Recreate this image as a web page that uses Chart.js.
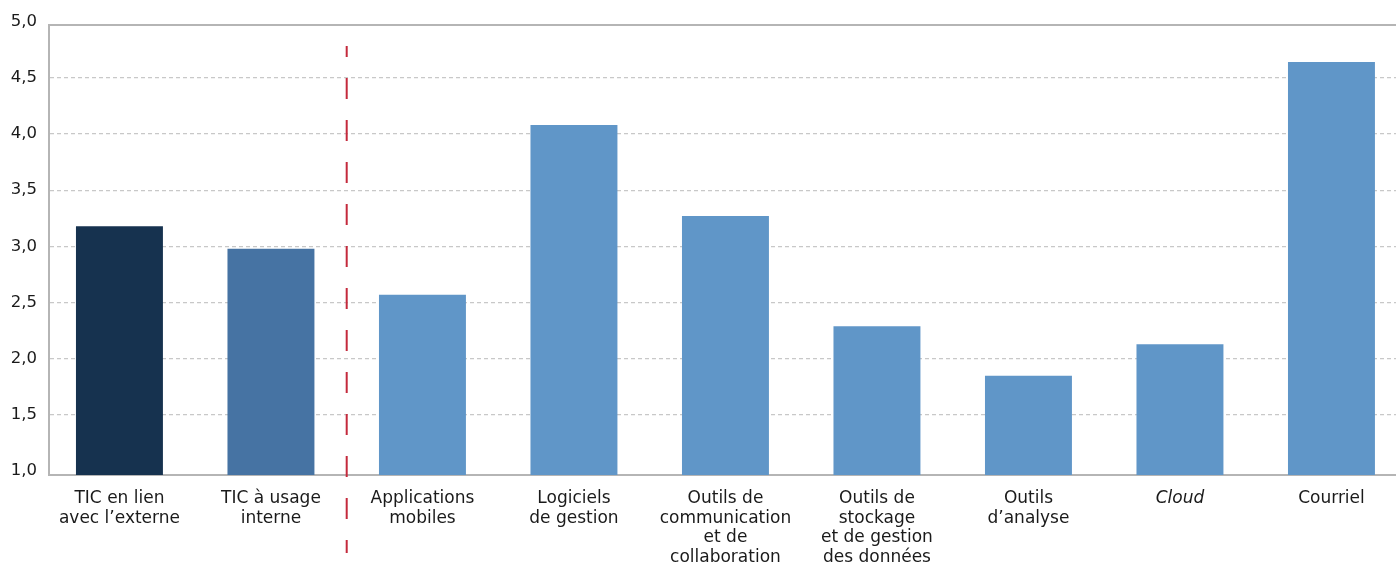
<!DOCTYPE html>
<html>
<head>
<meta charset="utf-8">
<script src="https://cdn.jsdelivr.net/npm/chart.js@4/dist/chart.umd.min.js"></script>
<style>
html,body{margin:0;padding:0;background:#fff;overflow:hidden;}
#wrap{width:1396px;height:563px;position:relative;}
</style>
</head>
<body>
<div id="wrap"><canvas id="c" width="1396" height="563"></canvas></div>
<script>
const categories = [
  ["TIC en lien", "avec l\u2019externe"],
  ["TIC \u00e0 usage", "interne"],
  ["Applications", "mobiles"],
  ["Logiciels", "de gestion"],
  ["Outils de", "communication", "et de", "collaboration"],
  ["Outils de", "stockage", "et de gestion", "des donn\u00e9es"],
  ["Outils", "d\u2019analyse"],
  ["Cloud"],
  ["Courriel"]
];
const values = [3.18, 2.98, 2.57, 4.08, 3.27, 2.29, 1.85, 2.13, 4.64];
const barColors = ["#16324f", "#4673a3", "#6096c8", "#6096c8", "#6096c8", "#6096c8", "#6096c8", "#6096c8", "#6096c8"];
const italicCategories = ["Cloud"];
const yTicks = [1.0, 1.5, 2.0, 2.5, 3.0, 3.5, 4.0, 4.5, 5.0];
const separatorAfterIndex = 1; // dashed line between 2nd and 3rd category

const FONT = "'DejaVu Sans', sans-serif";
const AXIS_COLOR = "#b5b5b5";

const separatorPlugin = {
  id: 'separator',
  afterDraw(chart) {
    const x = chart.scales.x.getPixelForValue(separatorAfterIndex + 0.5);
    const ctx = chart.ctx;
    const top = chart.chartArea.top + 21;
    const bottom = chart.height - 10;
    ctx.save();
    ctx.strokeStyle = "#c42a3c";
    ctx.lineWidth = 2;
    ctx.setLineDash([21, 21]);
    ctx.lineDashOffset = 10;
    ctx.beginPath();
    ctx.moveTo(x, top);
    ctx.lineTo(x, bottom);
    ctx.stroke();
    ctx.restore();
  }
};

const labelFor = v => {
  const i = Math.round(v);
  return (Math.abs(v - i) < 1e-6 && categories[i]) ? categories[i] : '';
};

new Chart(document.getElementById('c'), {
  type: 'bar',
  data: {
    datasets: [{
      data: values.map((v, i) => ({x: i, y: v})),
      backgroundColor: barColors,
      borderWidth: 0,
      categoryPercentage: 1,
      barPercentage: 0.574
    }]
  },
  options: {
    responsive: false,
    animation: false,
    events: [],
    layout: {padding: {top: 25, right: 0, left: 0, bottom: 0}},
    plugins: {legend: {display: false}, tooltip: {enabled: false}, title: {display: false}},
    scales: {
      x: {
        type: 'linear',
        position: 'bottom',
        offset: false,
        min: -0.465,
        max: 8.426,
        grid: {display: false, drawTicks: false, offset: false},
        border: {display: true, color: AXIS_COLOR, width: 2},
        ticks: {
          stepSize: 1,
          includeBounds: false,
          autoSkip: false,
          maxRotation: 0,
          minRotation: 0,
          padding: 14,
          color: "#1a1a1a",
          font: (ctx) => {
            const lab = ctx.tick ? labelFor(ctx.tick.value) : '';
            const it = Array.isArray(lab) && italicCategories.includes(lab.join(' '));
            return {family: FONT, size: 17, lineHeight: 1.15, style: it ? 'italic' : 'normal'};
          },
          callback: (v) => labelFor(v)
        },
        afterFit: (scale) => { scale.height = 88; }
      },
      x2: {
        type: 'linear',
        position: 'top',
        offset: false,
        min: -0.465,
        max: 8.426,
        grid: {display: false, drawTicks: false, offset: false},
        border: {display: true, color: AXIS_COLOR, width: 2},
        ticks: {display: false},
        afterFit: (scale) => { scale.height = 0; }
      },
      y: {
        min: 0.966,
        max: 4.97,
        grid: {
          drawTicks: false,
          color: (ctx) => (ctx.tick && (ctx.tick.value === 1 || ctx.tick.value === 5)) ? 'rgba(0,0,0,0)' : '#c8c8c8',
          lineWidth: 1.3
        },
        border: {display: true, color: AXIS_COLOR, width: 2, dash: [4, 3]},
        afterBuildTicks: (scale) => { scale.ticks = yTicks.map(v => ({value: v})); },
        ticks: {
          padding: 12,
          color: "#1a1a1a",
          font: {family: FONT, size: 16.5},
          callback: (v) => Number(v).toFixed(1).replace('.', ',')
        },
        afterFit: (scale) => { scale.width = 49; }
      }
    }
  },
  plugins: [separatorPlugin]
});
</script>
</body>
</html>
